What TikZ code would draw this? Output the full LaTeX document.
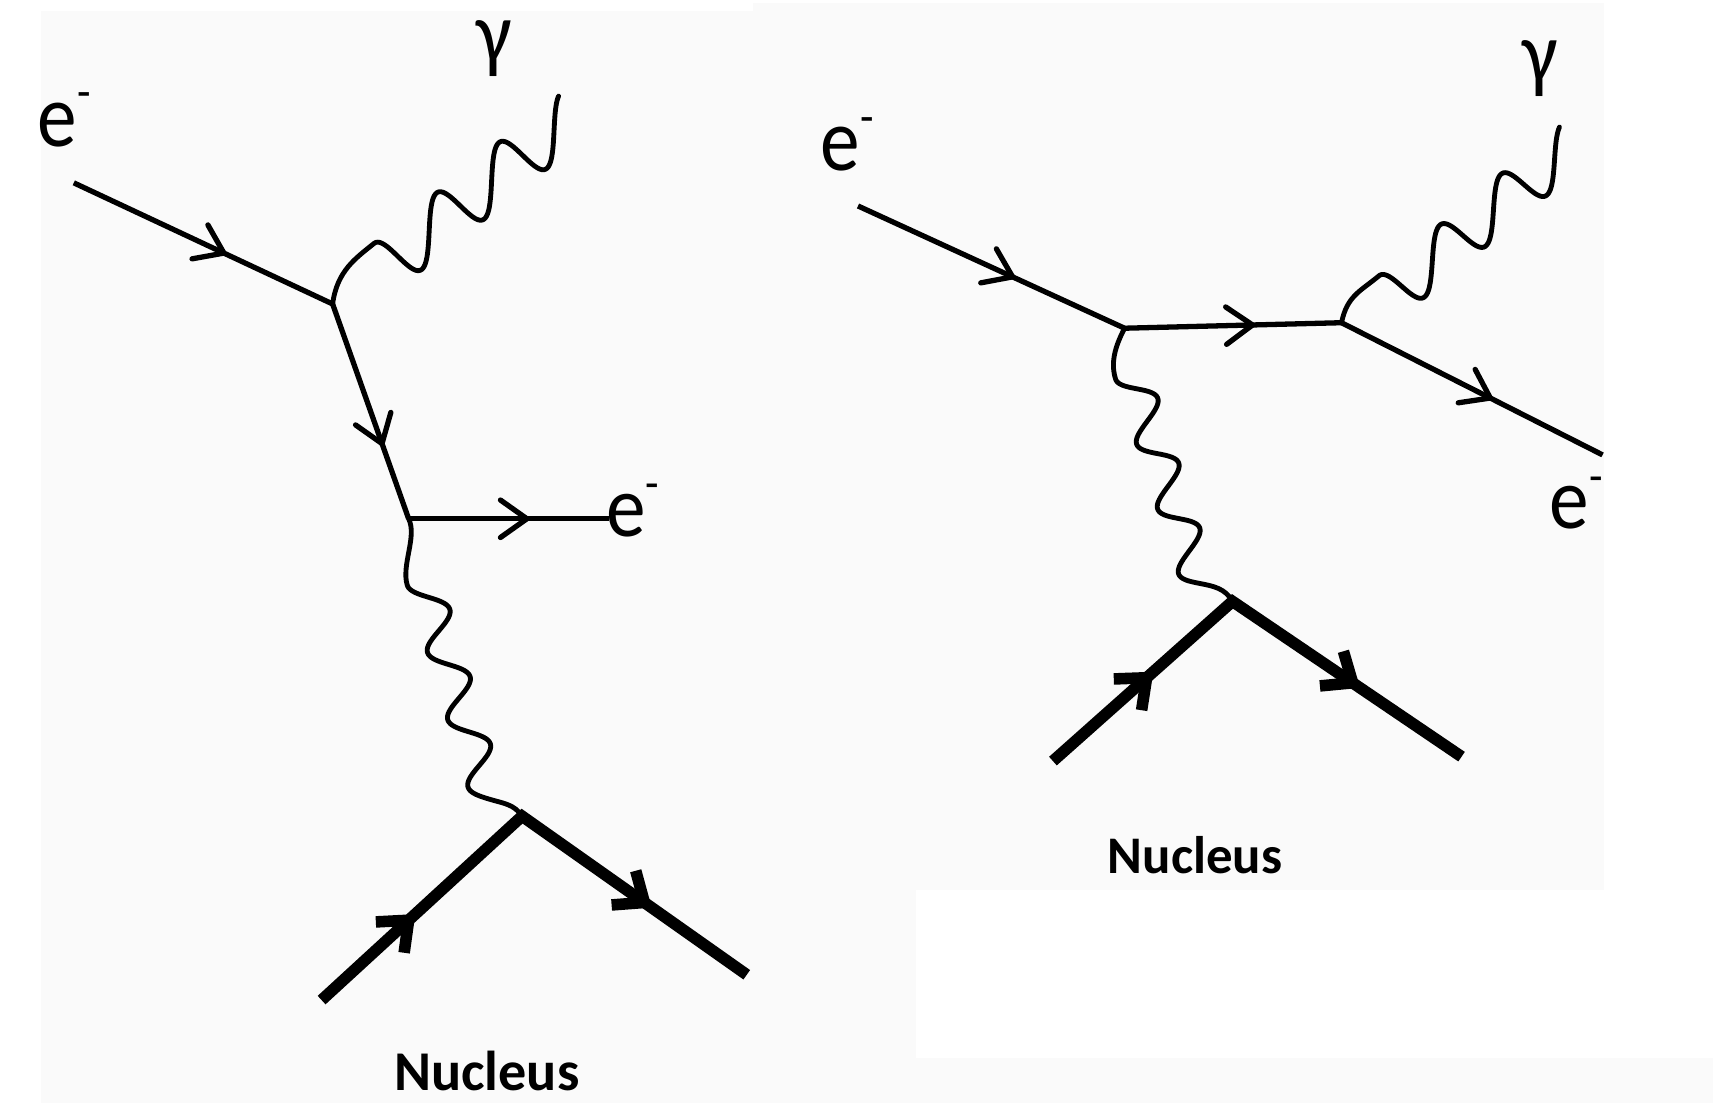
\documentclass[tikz,border=0pt]{standalone}
\usepackage{fontspec}
\setmainfont{Carlito}
\usetikzlibrary{decorations.markings}
\definecolor{panel}{HTML}{FAFAFA}
\newcommand{\elec}{e\raisebox{0.42em}{\fontsize{40}{40}\selectfont -}}
\begin{document}
\begin{tikzpicture}[x=1pt,y=-1pt,
  thinbarb/.style={line width=4.8pt, line join=miter, line cap=round},
  thickbarb/.style={line width=10.5pt, line join=miter, line cap=butt},
  fermion/.style={line width=4.8pt, postaction={decorate},
     decoration={markings, mark=at position #1 with
       {\draw[thinbarb] (-24pt,17pt) -- (0pt,0pt) -- (-24pt,-17pt);}}},
  nucleon/.style n args={2}{line width=10.5pt, line join=miter, postaction={decorate},
     decoration={markings,
       mark=at position #1 with {\draw[thickbarb] (-27pt,19pt) -- (-4pt,0pt) -- (-27pt,-19pt);},
       mark=at position #2 with {\draw[thickbarb] (-27pt,19pt) -- (-4pt,0pt) -- (-27pt,-19pt);}}},
  photon/.style={line width=4.4pt, line join=round, line cap=round},
  elab/.style={inner sep=0pt, font=\fontsize{72}{80}\selectfont},
  nlab/.style={inner sep=0pt, font=\fontsize{#1}{#1}\selectfont\bfseries},
]
% backgrounds
\fill[white] (0,0) rectangle (1568,1001);
\fill[panel] (37,10) rectangle (832,1001);
\fill[panel] (684,3) rectangle (1456,808);
\fill[panel] (37,961) rectangle (1555,1001);
\useasboundingbox (0,0) rectangle (1568,1001);

% ---------- left diagram ----------
\coordinate (A1) at (67,166);
\coordinate (V1) at (302,276);
\coordinate (V2) at (371,471);
\coordinate (E1) at (553,471);
\coordinate (V3) at (474,741);
\coordinate (N1a) at (292,908);
\coordinate (N1b) at (678,885);
\coordinate (P1) at (339.6,221);
\coordinate (L1) at (369.75,531.3);

\draw[photon] (V1) .. controls (306,246) and (322.6,234.7) .. (P1)
  -- plot[domain=0.75:3.7, samples=160, variable=\s]
     ({304.6+56.7*\s+7.5*sin(360*\s)},{278.6-45.8*\s+23.25*sin(360*\s)});
\draw[photon] (V2) .. controls (379,487) and (364.2,513) .. (L1)
  -- plot[domain=0.75:4, samples=160, variable=\s]
     ({370.7+18.4*\s+14.75*sin(360*\s)},{481.2+61.1*\s-4.3*sin(360*\s)})
  to[out=-17,in=123] (V3);

\draw[fermion=0.58] (A1) -- (V1);
\draw[fermion=0.65] (V1) -- (V2);
\draw[fermion=0.59] (V2) -- (E1);
\draw[nucleon={0.224}{0.779}] (N1a) -- (V3) -- (N1b);

\node[elab, anchor=base west] (lab1) at (34,133) {\scalebox{1}[1.13]{\elec}};
\node[elab, anchor=base] (lab2) at (449,57) {\scalebox{1}[1.1]{γ}};
\node[elab, anchor=base west] (lab3) at (550,487) {\scalebox{1}[1.1]{\elec}};
\node[nlab=51, anchor=base] (lab4) at (442,990) {Nucleus};

% ---------- right diagram ----------
\coordinate (A2) at (779,187);
\coordinate (V4) at (1021,298);
\coordinate (V5) at (1218,293);
\coordinate (E2) at (1455,413);
\coordinate (V6) at (1119,546);
\coordinate (N2a) at (956,691);
\coordinate (N2b) at (1327,687);
\coordinate (P2) at (1251.9,250.5);
\coordinate (L2) at (1012.9,344.3);

\draw[photon] (V5) .. controls (1223,268.5) and (1235.25,264.4) .. (P2)
  -- plot[domain=0.75:3.7, samples=160, variable=\s]
     ({1217.2+55.5*\s+6.9*sin(360*\s)},{306.2-46.2*\s+21.1*sin(360*\s)});
\draw[photon] (V4) .. controls (1015,310) and (1007.2,326.6) .. (L2)
  -- plot[domain=0.75:4, samples=160, variable=\s]
     ({1013+19.06*\s+14.4*sin(360*\s)},{294.1+58.9*\s-6*sin(360*\s)})
  to[out=-11,in=119] (V6);

\draw[fermion=0.58] (A2) -- (V4);
\draw[fermion=0.59] (V4) -- (V5);
\draw[fermion=0.57] (V5) -- (E2);
\draw[nucleon={0.251}{0.754}] (N2a) -- (V6) -- (N2b);

\node[elab, anchor=base west] (lab5) at (745,155) {\scalebox{1}[1.13]{\elec}};
\node[elab, anchor=base] (lab6) at (1398,75) {\scalebox{1}[1.1]{γ}};
\node[elab, anchor=base west] (lab7) at (1407,480) {\scalebox{1}[1.1]{\elec}};
\node[nlab=48, anchor=base] (lab8) at (1085,793) {Nucleus};
\end{tikzpicture}
\end{document}
